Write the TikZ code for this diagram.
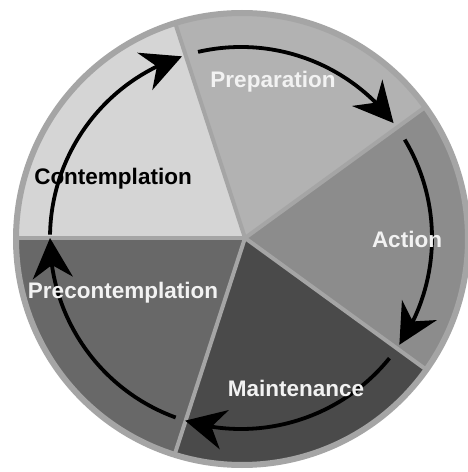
\documentclass[tikz,border=0pt]{standalone}
\usepackage{fontspec}
\setmainfont{Liberation Sans}
\usepackage{tikz}
\usetikzlibrary{arrows.meta,bending}
\definecolor{contemp}{HTML}{D5D5D5}
\definecolor{prep}{HTML}{B2B2B2}
\definecolor{act}{HTML}{8C8C8C}
\definecolor{maint}{HTML}{4A4A4A}
\definecolor{precon}{HTML}{686868}
\definecolor{rim}{HTML}{A5A5A5}
\definecolor{labwhite}{HTML}{F2F2F2}
\tikzset{
  sep/.style={draw=rim, line width=4pt},
  rimline/.style={draw=rim, line width=6pt},
  cyc/.style={draw=black, line width=3.8pt, -{Stealth[length=40pt,width=40pt,inset=13pt]}},
  lab/.style={anchor=base, font=\fontsize{22.5}{24}\selectfont\bfseries, text=labwhite, inner sep=0pt},
  labd/.style={lab, text=black}
}

\begin{document}
\begin{tikzpicture}[x=1pt,y=1pt]
  \useasboundingbox (0,0) rectangle (468,472);
  \clip (0,0) rectangle (468,472);
  \fill[white] (0,0) rectangle (468,472);

  \coordinate (O) at (245,234);  % tip of the wedges
  \coordinate (C) at (242,233);  % middle of the disc
  \coordinate (R) at (241,234);  % middle of the arrow ring

  % wedges
  \begin{scope}
    \clip (C) circle[radius=226pt];
    \foreach \a/\b/\c in {108/180/contemp, 36/108/prep, -36/36/act, -108/-36/maint, -180/-108/precon}
      \fill[\c] (O) -- ++(\a:300pt) arc[start angle=\a, end angle=\b, radius=300pt] -- cycle;
    \foreach \a in {180,108,36,-36,-108}
      \draw[sep] (O) -- ++(\a:300pt);
  \end{scope}
  \draw[rimline] (C) circle[radius=226pt];

  % cycle arrows
  \foreach \s/\e in {179/108, 103/37, 31/-34, -39/-107, -110/-180}
    \draw[cyc] (R) ++(\s:191pt) arc[start angle=\s, end angle=\e, radius=191pt];

  \node[labd] (contemplation) at (113,287) {Contemplation};
  \node[lab] (preparation) at (273,384) {Preparation};
  \node[lab] (action) at (407,224) {Action};
  \node[lab] (maintenance) at (296,75) {Maintenance};
  \node[lab] (precontemplation) at (123,173) {Precontemplation};
\end{tikzpicture}
\end{document}
